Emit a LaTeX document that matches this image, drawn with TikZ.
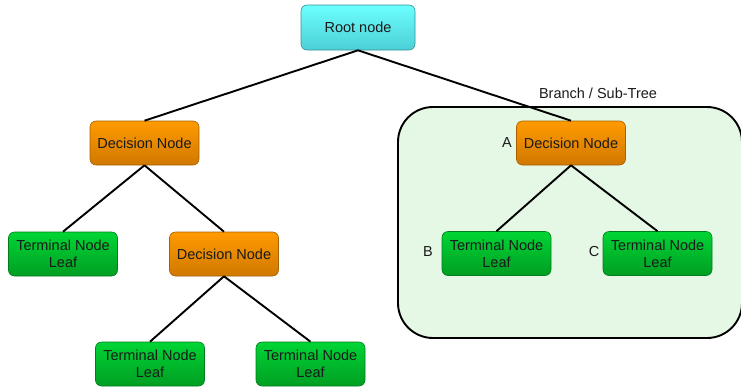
\documentclass[tikz,border=0pt]{standalone}
\usepackage{fontspec}
\setmainfont{Liberation Sans}
\usepackage{xcolor}
\usetikzlibrary{positioning,calc}

\definecolor{rootTop}{HTML}{6CFFFF}
\definecolor{rootBot}{HTML}{4CCFD6}
\definecolor{decTop}{HTML}{FF9A00}
\definecolor{decBot}{HTML}{D07800}
\definecolor{termTop}{HTML}{00D535}
\definecolor{termBot}{HTML}{009E22}
\definecolor{subFill}{HTML}{E5F8E5}
\definecolor{txt}{HTML}{1A1A1A}

\begin{document}
\begin{tikzpicture}
      [x=1pt,y=-1pt,
       every node/.style={font=\fontsize{14.5}{17}\selectfont,text=txt},
       box/.style={rounded corners=6pt,minimum width=109pt,minimum height=44pt,inner sep=0pt,align=center,line width=0.6pt},
       rootbox/.style={box,draw=rootBot!70!black,top color=rootTop,bottom color=rootBot,minimum width=114pt,minimum height=45pt},
       decbox/.style={box,draw=decBot!80!black,top color=decTop,bottom color=decBot},
       termbox/.style={box,draw=termBot!80!black,top color=termTop,bottom color=termBot},
       edge/.style={line width=1.9pt,black}]
      \useasboundingbox (0,0) rectangle (741,386);

      % sub-tree frame
      \draw[line width=1.9pt,fill=subFill,rounded corners=35pt] (398,107) rectangle (742,338);
      \node (subtree) at (598,93) {Branch / Sub-Tree};

      \node[rootbox] (root) at (358,27.5) {Root node};
      \node[decbox] (dec1) at (144.5,143) {Decision Node};
      \node[decbox] (decA) at (571,143) {Decision Node};
      \node[termbox] (term1) at (63,254) {Terminal Node\\Leaf};
      \node[decbox] (dec2) at (224,254) {Decision Node};
      \node[termbox] (term2) at (150,364) {Terminal Node\\Leaf};
      \node[termbox] (term3) at (310.5,364) {Terminal Node\\Leaf};
      \node[termbox] (termB) at (496.5,253.5) {Terminal Node\\Leaf};
      \node[termbox] (termC) at (657.5,253.5) {Terminal Node\\Leaf};

      \node (labA) at (507,143) {A};
      \node (labB) at (428,252) {B};
      \node (labC) at (594,252) {C};

      \draw[edge] (root.south) -- (dec1.north);
      \draw[edge] (root.south) -- (decA.north);
      \draw[edge] (dec1.south) -- (term1.north);
      \draw[edge] (dec1.south) -- (dec2.north);
      \draw[edge] (dec2.south) -- (term2.north);
      \draw[edge] (dec2.south) -- (term3.north);
      \draw[edge] (decA.south) -- (termB.north);
      \draw[edge] (decA.south) -- (termC.north);
    \end{tikzpicture}
\end{document}
